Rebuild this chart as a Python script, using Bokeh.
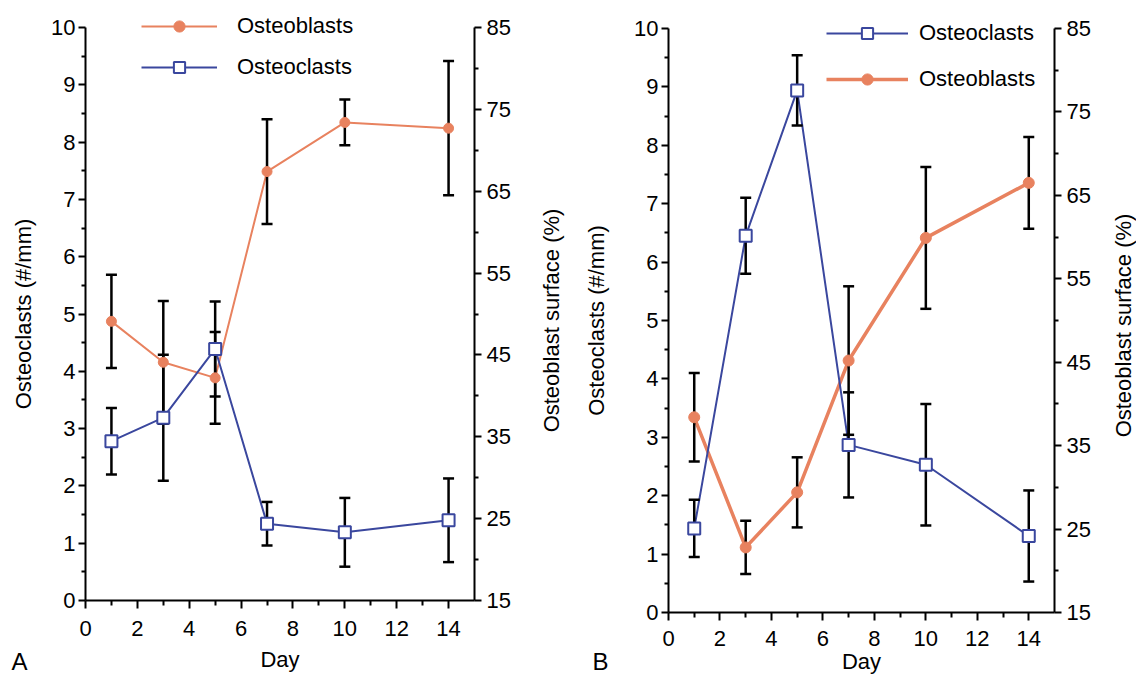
import math
from bokeh.plotting import figure
from bokeh.models import (Range1d, LinearAxis, FixedTicker, ColumnDataSource, Whisker,
                          TeeHead, Legend, LegendItem, Label)
from bokeh.layouts import row
from bokeh.embed import file_html
from bokeh.resources import INLINE

# ---------------- data ----------------
days = [1, 3, 5, 7, 10, 14]

a_clasts = [2.78, 3.19, 4.39, 1.34, 1.19, 1.40]
a_clasts_err = [0.58, 1.10, 0.83, 0.38, 0.60, 0.73]
a_blasts = [49.1, 44.1, 42.2, 67.4, 73.4, 72.7]
a_blasts_err = [5.7, 7.5, 5.6, 6.4, 2.8, 8.2]

b_clasts = [1.44, 6.45, 8.94, 2.87, 2.53, 1.31]
b_clasts_err = [0.49, 0.65, 0.60, 0.90, 1.04, 0.78]
b_blasts = [38.4, 22.8, 29.4, 45.2, 59.9, 66.5]
b_blasts_err = [5.3, 3.2, 4.2, 8.9, 8.5, 5.5]

x_ticks = [0, 2, 4, 6, 8, 10, 12, 14]
x_minor = [1, 3, 5, 7, 9, 11, 13]
left_ticks = [0, 1, 2, 3, 4, 5, 6, 7, 8, 9, 10]
left_minor = [0.5, 1.5, 2.5, 3.5, 4.5, 5.5, 6.5, 7.5, 8.5, 9.5]
right_ticks = [15, 25, 35, 45, 55, 65, 75, 85]
right_minor = [20, 30, 40, 50, 60, 70, 80]

X_MIN, X_MAX = 0, 15
L_MIN, L_MAX = 0, 10
R_MIN, R_MAX = 15, 85

FONT = "Liberation Sans"
FS = "22px"
ORANGE = "#E8825F"
BLUE = "#3A479E"


def style_axis(ax, label, tick_out, minor_out, label_standoff, axis_label_standoff):
    ax.axis_label = label
    ax.axis_label_text_font = FONT
    ax.axis_label_text_font_size = FS
    ax.axis_label_text_font_style = "normal"
    ax.axis_label_text_color = "black"
    ax.axis_label_standoff = axis_label_standoff
    ax.major_label_text_font = FONT
    ax.major_label_text_font_size = FS
    ax.major_label_text_color = "black"
    ax.major_label_standoff = label_standoff
    ax.axis_line_width = 2
    ax.axis_line_color = "black"
    ax.major_tick_line_width = 2
    ax.minor_tick_line_width = 2
    ax.major_tick_line_color = "black"
    ax.minor_tick_line_color = "black"
    ax.major_tick_out = tick_out
    ax.major_tick_in = 0
    ax.minor_tick_out = minor_out
    ax.minor_tick_in = 0


def make_panel(width, height, frame_px, clasts, clasts_err, blasts, blasts_err,
               blast_lw, order, leg_loc, leg_glyph_w, leg_standoff, leg_spacing,
               letter, letter_xy, left_std, right_label_xy, xlab_std, bottom_std):
    # frame_px: pixel positions (canvas) of x=X_MIN, x=X_MAX, y=L_MIN, y=L_MAX
    x0p, x1p, y0p, y1p = frame_px
    ppx = (x1p - x0p) / (X_MAX - X_MIN)
    ppy = (y0p - y1p) / (L_MAX - L_MIN)
    xs = X_MIN - x0p / ppx
    xe = X_MIN + (width - x0p) / ppx
    ys = L_MIN - (height - y0p) / ppy
    ye = L_MIN + y0p / ppy
    k = (R_MAX - R_MIN) / (L_MAX - L_MIN)

    p = figure(width=width, height=height, output_backend="svg", toolbar_location=None,
               x_range=Range1d(xs, xe), y_range=Range1d(ys, ye), min_border=0,
               x_axis_location=None, y_axis_location=None)
    p.outline_line_color = None
    p.xgrid.visible = False
    p.ygrid.visible = False
    p.background_fill_color = "white"
    p.border_fill_color = "white"
    p.extra_y_ranges = {"right": Range1d(R_MIN + k * (ys - L_MIN), R_MIN + k * (ye - L_MIN))}

    # axes (floating at data locations, so the whole canvas is the plot frame)
    xa = LinearAxis(ticker=FixedTicker(ticks=x_ticks, minor_ticks=x_minor),
                    fixed_location=L_MIN, bounds=(X_MIN, X_MAX))
    style_axis(xa, "Day", 8, 5, xlab_std, bottom_std)
    p.add_layout(xa, "below")
    ya = LinearAxis(ticker=FixedTicker(ticks=left_ticks, minor_ticks=left_minor),
                    fixed_location=X_MIN, bounds=(L_MIN, L_MAX))
    style_axis(ya, "Osteoclasts (#/mm)", 7, 4, 3, left_std)
    p.add_layout(ya, "left")
    ra = LinearAxis(y_range_name="right",
                    ticker=FixedTicker(ticks=right_ticks, minor_ticks=right_minor),
                    fixed_location=X_MAX, bounds=(R_MIN, R_MAX))
    style_axis(ra, None, 7, 4, 5, 0)
    p.add_layout(ra, "right")
    # right axis title, reading bottom-to-top like the left one
    p.add_layout(Label(x=right_label_xy[0], y=right_label_xy[1], x_units="screen",
                       y_units="screen", text="Osteoblast surface (%)", angle=math.pi / 2,
                       text_font=FONT, text_font_size=FS, text_color="black",
                       text_align="center", text_baseline="middle"))

    # data sources
    src_c = ColumnDataSource(dict(
        x=days, y=clasts,
        lo=[v - e for v, e in zip(clasts, clasts_err)],
        hi=[v + e for v, e in zip(clasts, clasts_err)]))
    src_b = ColumnDataSource(dict(
        x=days, y=blasts,
        lo=[v - e for v, e in zip(blasts, blasts_err)],
        hi=[v + e for v, e in zip(blasts, blasts_err)]))

    # lines
    lb = p.line("x", "y", source=src_b, y_range_name="right", line_color=ORANGE,
                line_width=blast_lw)
    lc = p.line("x", "y", source=src_c, line_color=BLUE, line_width=2)

    # error bars
    for src, rn in ((src_b, "right"), (src_c, "default")):
        w = Whisker(base="x", lower="lo", upper="hi", source=src, y_range_name=rn,
                    line_color="black", line_width=2.5, level="glyph",
                    upper_head=TeeHead(size=11, line_width=2.5, line_color="black"),
                    lower_head=TeeHead(size=11, line_width=2.5, line_color="black"))
        p.add_layout(w)

    # markers
    sb = p.scatter("x", "y", source=src_b, y_range_name="right", marker="circle",
                   size=10 if blast_lw < 3 else 11, fill_color=ORANGE, line_color=ORANGE)
    sc = p.scatter("x", "y", source=src_c, marker="square", size=12,
                   fill_color="white", line_color=BLUE, line_width=2)
    sb.level = "annotation"
    sc.level = "annotation"

    items = {
        "Osteoblasts": LegendItem(label="Osteoblasts", renderers=[lb, sb]),
        "Osteoclasts": LegendItem(label="Osteoclasts", renderers=[lc, sc]),
    }
    legend = Legend(items=[items[k] for k in order], location=leg_loc,
                    glyph_width=leg_glyph_w, glyph_height=28,
                    label_standoff=leg_standoff, spacing=leg_spacing,
                    padding=0, margin=0, border_line_color=None,
                    background_fill_alpha=0,
                    label_text_font=FONT, label_text_font_size=FS,
                    label_text_color="black")
    p.add_layout(legend)

    p.add_layout(Label(x=letter_xy[0], y=letter_xy[1], x_units="screen", y_units="screen",
                       text=letter, text_font=FONT, text_font_size="24px",
                       text_color="black", text_baseline="middle"))
    return p


pa = make_panel(584, 676, (85, 474, 600, 27),
                a_clasts, a_clasts_err, a_blasts, a_blasts_err,
                2, ["Osteoblasts", "Osteoclasts"], (141, 595), 76, 20, 13,
                "A", (11, 15), 12, (551, 356), 12, 8)
pb = make_panel(552, 676, (84, 470, 612, 28),
                b_clasts, b_clasts_err, b_blasts, b_blasts_err,
                3.5, ["Osteoclasts", "Osteoblasts"], (242, 583), 82, 11, 18,
                "B", (8, 15), 22, (539, 351), 10, 0)

layout = row(pa, pb)
open("out.html", "w").write(file_html(layout, INLINE))
